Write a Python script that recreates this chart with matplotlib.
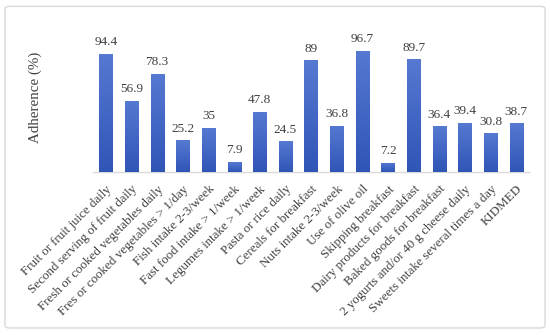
import matplotlib
matplotlib.use("Agg")
import matplotlib.pyplot as plt
import numpy as np
from matplotlib.patches import FancyBboxPatch
from matplotlib.colors import LinearSegmentedColormap

categories = [
    "Fruit or fruit juice daily",
    "Second serving of fruit daily",
    "Fresh or cooked vegetables daily",
    "Fres or cooked vegetables > 1/day",
    "Fish intake 2-3/week",
    "Fast food intake > 1/week",
    "Legumes intake > 1/week",
    "Pasta or rice daily",
    "Cereals for breakfast",
    "Nuts intake 2-3/week",
    "Use of olive oil",
    "Skipping breakfast",
    "Dairy products for breakfast",
    "Baked goods for breakfast",
    "2 yogurts and/or 40 g cheese daily",
    "Sweets intake several times a day",
    "KIDMED",
]
values = [94.4, 56.9, 78.3, 25.2, 35, 7.9, 47.8, 24.5, 89, 36.8, 96.7, 7.2, 89.7, 36.4, 39.4, 30.8, 38.7]
value_labels = ["94.4", "56.9", "78.3", "25.2", "35", "7.9", "47.8", "24.5", "89", "36.8",
                "96.7", "7.2", "89.7", "36.4", "39.4", "30.8", "38.7"]
y_label = "Adherence (%)"

plt.rcParams['font.family'] = ['Liberation Serif', 'DejaVu Serif']
text_color = "#404040"

fig = plt.figure(figsize=(5.5, 3.35), dpi=100)
fig.patch.set_facecolor("white")

# outer rounded border
border = FancyBboxPatch((0.009, 0.021), 0.982, 0.96,
                        boxstyle="round,pad=0,rounding_size=0.008",
                        transform=fig.transFigure, facecolor="none",
                        edgecolor="#d9d9d9", linewidth=1.0, zorder=-1)
fig.patches.append(border)

n = len(categories)
ax = fig.add_axes([0.169, 0.4866, 0.793, 0.3746])
ax.set_facecolor("none")
x = np.arange(n)
bars = ax.bar(x, values, width=0.51, color="#3f64c4", edgecolor="none", zorder=2)

cmap = LinearSegmentedColormap.from_list("g", ["#2f55b6", "#5679d2"])
grad = np.linspace(0, 1, 256).reshape(-1, 1)
for b in bars:
    bx, by = b.get_x(), b.get_y()
    w, h = b.get_width(), b.get_height()
    im = ax.imshow(grad, cmap=cmap, origin="lower", aspect="auto",
                   extent=[bx, bx + w, by, by + h], zorder=3)
    im.set_clip_path(b)

for xi, v, lab in zip(x, values, value_labels):
    ax.text(xi, v + 4.5, lab, ha="center", va="bottom", fontsize=9.5,
            color=text_color)

ax.set_xlim(-0.5, n - 0.5)
ax.set_ylim(0, 100)
ax.set_yticks([])
ax.set_xticks(x)
ax.set_xticklabels(categories, rotation=45, ha="right", rotation_mode="anchor",
                   fontsize=9.4, color=text_color)
ax.tick_params(axis="x", length=0, pad=8)
for s in ["top", "right", "left"]:
    ax.spines[s].set_visible(False)
ax.spines["bottom"].set_color("#d9d9d9")
ax.spines["bottom"].set_linewidth(1.0)

fig.text(0.064, 0.71, y_label, rotation=90, ha="center", va="center",
         fontsize=10.8, color=text_color)

fig.savefig("out.png", dpi=100, facecolor="white")
